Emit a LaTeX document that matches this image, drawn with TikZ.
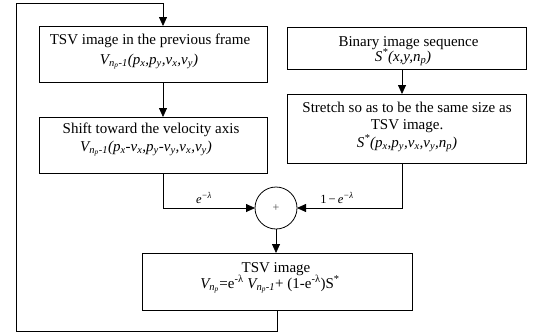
\documentclass[tikz,border=0pt]{standalone}
\usepackage{fontspec}
\setmainfont{Liberation Serif}
\usetikzlibrary{arrows.meta}
\begin{document}
\begin{tikzpicture}[x=1bp,y=-1bp,
  box/.style={draw,line width=0.8pt,inner sep=0pt,outer sep=0pt},
  txt/.style={font=\fontsize{15bp}{17.5bp}\selectfont,inner sep=0pt,anchor=base},
  lbl/.style={font=\fontsize{12.5bp}{14bp}\selectfont,inner sep=0pt,anchor=base},
  conn/.style={line width=0.8pt},
  arr/.style={line width=0.8pt,-{Triangle[length=9bp,width=8bp]}}]
\useasboundingbox (0,0) rectangle (535,335);
% boxes
\node[box,minimum width=228bp,minimum height=56bp] (b1) at (153,54) {};
\node[box,minimum width=228bp,minimum height=56bp] (b2) at (153,145) {};
\node[box,minimum width=239bp,minimum height=42bp] (b3) at (406.5,48) {};
\node[box,minimum width=239bp,minimum height=69bp] (b4) at (406.5,128.5) {};
\node[box,minimum width=270bp,minimum height=57bp] (b5) at (277,281.5) {};
\node[draw,circle,line width=0.8pt,minimum size=42bp,inner sep=0pt,outer sep=0pt] (sum) at (276,208) {};
\node[font=\fontsize{12bp}{12bp}\selectfont,text=black!70] (plus) at (sum.center) {+};
% texts
\node[txt] (t1a) at (150,44) {TSV image in the previous frame};
\node[txt] (t1b) at (149,64) {\textit{V\textsubscript{n\textsubscript{p}-1}(p\textsubscript{x},p\textsubscript{y},v\textsubscript{x},v\textsubscript{y})}};
\node[txt] (t2a) at (151,133) {Shift toward the velocity axis};
\node[txt] (t2b) at (146,151) {\textit{V\textsubscript{n\textsubscript{p}-1}(p\textsubscript{x}-v\textsubscript{x},p\textsubscript{y}-v\textsubscript{y},v\textsubscript{x},v\textsubscript{y})}};
\node[txt] (t3a) at (408.5,46) {Binary image sequence};
\node[txt] (t3b) at (403,61) {\textit{S\textsuperscript{*}(x,y,n\textsubscript{p})}};
\node[txt] (t4a) at (407,112) {Stretch so as to be the same size as};
\node[txt] (t4b) at (407,129.5) {TSV image.};
\node[txt] (t4c) at (407,147) {\textit{S\textsuperscript{*}(p\textsubscript{x},p\textsubscript{y},v\textsubscript{x},v\textsubscript{y},n\textsubscript{p})}};
\node[txt] (t5a) at (276,272) {TSV image};
\node[txt] (t5b) at (270,288) {\textit{V\textsubscript{n\textsubscript{p}}}=e\textsuperscript{-λ} \textit{V\textsubscript{n\textsubscript{p}-1}}+ (1-e\textsuperscript{-λ})S\textsuperscript{*}};
% coordinates
\coordinate (k1) at (163,0);
\coordinate (k2) at (402,0);
\coordinate (lb) at (16,331);
\coordinate (lt) at (16,3.5);
% connectors
\draw[arr] (k1 |- b1.south) -- (k1 |- b2.north);
\draw[arr] (k2 |- b3.south) -- (k2 |- b4.north);
\draw[arr] (k1 |- b2.south) |- (sum.west);
\draw[arr] (k2 |- b4.south) |- (sum.east);
\draw[arr] (sum.south) -- (sum.south |- b5.north);
\draw[arr] (b5.south) -- (b5.south |- lb) -- (lb) -- (lt) -- (lt -| k1) -- (k1 |- b1.north);
% labels
\node[lbl] (l1) at (204,203) {\textit{e}\textsuperscript{\textit{−λ}}};
\node[lbl] (l2) at (337,203) {1\,−\,\textit{e}\textsuperscript{\textit{−λ}}};
\end{tikzpicture}
\end{document}
